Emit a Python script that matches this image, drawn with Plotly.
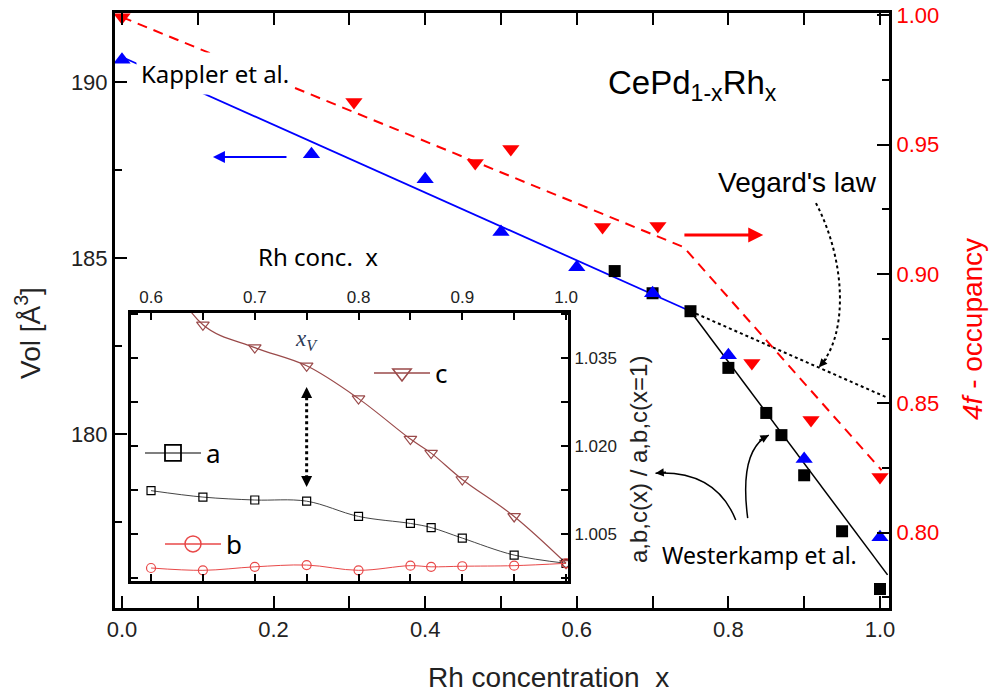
import plotly.graph_objects as go

# ---------------- data ----------------
kappler_x = [0.0, 0.25, 0.40, 0.50, 0.60, 0.70, 0.80, 0.90, 1.00]
kappler_vol = [190.63, 187.95, 187.24, 185.74, 184.74, 184.00, 182.24, 179.29, 177.07]

westerkamp_x = [0.65, 0.70, 0.75, 0.80, 0.85, 0.87, 0.90, 0.95, 1.00]
westerkamp_vol = [184.63, 184.00, 183.49, 181.88, 180.60, 179.97, 178.83, 177.24, 175.60]

occ_x = [0.0, 0.306, 0.466, 0.513, 0.634, 0.707, 0.831, 0.909, 1.0]
occ_4f = [0.9993, 0.9665, 0.9429, 0.9483, 0.9182, 0.9186, 0.8656, 0.8436, 0.8215]

# guide lines
vol_fit_x = [0.0, 0.75]
vol_fit_y = [190.71, 183.49]
vol_steep_x = [0.75, 1.01]
vol_steep_y = [183.49, 176.0]
vegard_x = [0.75, 1.008]
vegard_y = [183.49, 181.05]
occ_fit_x = [0.0, 0.741, 1.002]
occ_fit_y = [0.9993, 0.9104, 0.8242]

# inset: lattice parameter ratios
inset_x = [0.60, 0.65, 0.70, 0.75, 0.80, 0.85, 0.87, 0.90, 0.95, 1.00]
ratio_a = [1.0124, 1.0113, 1.0108, 1.0106, 1.0080, 1.0068, 1.0061, 1.0043, 1.0014, 1.0000]
ratio_b = [0.9992, 0.9988, 0.9994, 0.9997, 0.9988, 0.9996, 0.9994, 0.9995, 0.9996, 1.0000]
ratio_c = [1.0545, 1.0407, 1.0368, 1.0337, 1.0281, 1.0212, 1.0188, 1.0143, 1.0080, 1.0000]

x_ticks = [0.0, 0.2, 0.4, 0.6, 0.8, 1.0]

TICKFONT = "Liberation Sans"
TEXTFONT = "Noto Sans"
BLUE = "#0000ff"
RED = "#ff0000"
C_COL = "#9a4a4a"
B_COL = "#e84848"

fig = go.Figure()

# ---------------- main panel ----------------
fig.add_trace(go.Scatter(x=vol_fit_x, y=vol_fit_y, mode="lines",
                         line=dict(color=BLUE, width=1.8), showlegend=False))
fig.add_trace(go.Scatter(x=vol_steep_x, y=vol_steep_y, mode="lines",
                         line=dict(color="black", width=1.5), showlegend=False))
fig.add_trace(go.Scatter(x=vegard_x, y=vegard_y, mode="lines",
                         line=dict(color="black", width=2, dash="dot"), showlegend=False))
fig.add_trace(go.Scatter(x=westerkamp_x, y=westerkamp_vol, mode="markers",
                         marker=dict(symbol="square", size=12, color="black"),
                         showlegend=False, cliponaxis=False))
fig.add_trace(go.Scatter(x=kappler_x, y=kappler_vol, mode="markers",
                         marker=dict(symbol="triangle-up", size=15, color=BLUE),
                         showlegend=False, cliponaxis=False))
fig.add_trace(go.Scatter(x=occ_fit_x, y=occ_fit_y, yaxis="y2", mode="lines",
                         line=dict(color=RED, width=2, dash="10px,7px"), showlegend=False))
fig.add_trace(go.Scatter(x=occ_x, y=occ_4f, yaxis="y2", mode="markers",
                         marker=dict(symbol="triangle-down", size=15, color=RED),
                         showlegend=False, cliponaxis=False))

# ---------------- inset ----------------
fig.add_trace(go.Scatter(x=inset_x, y=ratio_c, xaxis="x2", yaxis="y3", mode="lines+markers",
                         line=dict(color=C_COL, width=1.2, shape="spline"),
                         marker=dict(symbol="triangle-down-open", size=11, color=C_COL,
                                     line=dict(width=1.2)),
                         showlegend=False, cliponaxis=True))
fig.add_trace(go.Scatter(x=inset_x, y=ratio_a, xaxis="x2", yaxis="y3", mode="lines+markers",
                         line=dict(color="#444444", width=1, shape="spline"),
                         marker=dict(symbol="square-open", size=8, color="black",
                                     line=dict(width=1.2)),
                         showlegend=False, cliponaxis=False))
fig.add_trace(go.Scatter(x=inset_x, y=ratio_b, xaxis="x2", yaxis="y3", mode="lines+markers",
                         line=dict(color=B_COL, width=1, shape="spline"),
                         marker=dict(symbol="circle-open", size=9, color=B_COL,
                                     line=dict(width=1.2)),
                         showlegend=False, cliponaxis=False))

# legend samples (no data, legend only)
fig.add_trace(go.Scatter(x=[None], y=[None], xaxis="x2", yaxis="y3", name="a",
                         mode="lines+markers", legend="legend",
                         line=dict(color="#555555", width=1.5),
                         marker=dict(symbol="square-open", size=16, color="black",
                                     line=dict(width=1.8))))
fig.add_trace(go.Scatter(x=[None], y=[None], xaxis="x2", yaxis="y3", name="b",
                         mode="lines+markers", legend="legend2",
                         line=dict(color=B_COL, width=1.5),
                         marker=dict(symbol="circle-open", size=16, color=B_COL,
                                     line=dict(width=1.5))))
fig.add_trace(go.Scatter(x=[None], y=[None], xaxis="x2", yaxis="y3", name="c",
                         mode="lines+markers", legend="legend3",
                         line=dict(color=C_COL, width=1.5),
                         marker=dict(symbol="triangle-down-open", size=16, color=C_COL,
                                     line=dict(width=1.5))))

W, H = 992, 695
L, R, T, B = 115, 103, 13, 87
PW, PH = W - L - R, H - T - B


def px(X):
    return (X - L) / PW


def py(Y):
    return (H - B - Y) / PH


legend_common = dict(bgcolor="rgba(0,0,0,0)", borderwidth=0, itemwidth=56,
                     font=dict(family=TEXTFONT, size=26, color="black"),
                     xanchor="left", yanchor="middle", orientation="v")

axis_common = dict(showgrid=False, zeroline=False, showline=True, linecolor="black",
                   ticks="inside", tickcolor="black", automargin=False)

fig.update_layout(
    template="none",
    width=W, height=H, autosize=False,
    margin=dict(l=L, r=R, t=T, b=B, pad=0, autoexpand=False),
    paper_bgcolor="white", plot_bgcolor="white",
    xaxis=dict(**axis_common, domain=[0, 1], anchor="y", range=[-0.0092, 1.0119],
               tickvals=x_ticks, tickformat=".1f", linewidth=3, ticklen=12, tickwidth=2,
               mirror="allticks",
               minor=dict(dtick=0.1, tick0=0, ticks="inside", ticklen=6, tickwidth=2,
                          tickcolor="black"),
               tickfont=dict(family=TICKFONT, size=22, color="#222222")),
    yaxis=dict(**axis_common, domain=[0, 1], anchor="x", range=[175.06, 191.96],
               tick0=175, dtick=5, linewidth=3, ticklen=12, tickwidth=2,
               minor=dict(dtick=2.5, tick0=175, ticks="inside", ticklen=7, tickwidth=2,
                          tickcolor="black"),
               tickfont=dict(family=TICKFONT, size=22, color="#222222")),
    yaxis2=dict(**axis_common, overlaying="y", side="right", anchor="x",
                range=[0.7709, 1.0009], tick0=0.8, dtick=0.05, tickformat=".2f",
                linewidth=3, ticklen=12, tickwidth=2,
                minor=dict(dtick=0.025, tick0=0.8, ticks="inside", ticklen=7, tickwidth=2,
                           tickcolor="black"),
                tickfont=dict(family=TICKFONT, size=22, color=RED)),
    xaxis2=dict(**axis_common, domain=[px(131), px(568)], anchor="y3", side="top",
                range=[0.5807, 1.0019], tick0=0.6, dtick=0.1, tickformat=".1f",
                linewidth=3, ticklen=7, tickwidth=2, mirror="allticks",
                minor=dict(dtick=0.05, tick0=0.6, ticks="inside", ticklen=7, tickwidth=2,
                           tickcolor="black"),
                tickfont=dict(family=TICKFONT, size=17, color="#222222")),
    yaxis3=dict(**axis_common, domain=[py(581), py(313)], anchor="x2", side="right",
                range=[0.99698, 1.04271], tick0=1.005, dtick=0.015, tickformat=".3f",
                linewidth=3, ticklen=7, tickwidth=2, mirror="allticks",
                minor=dict(dtick=0.0075, tick0=1.005, ticks="inside", ticklen=7,
                           tickwidth=2, tickcolor="black"),
                tickfont=dict(family=TICKFONT, size=17, color="#222222")),
    legend=dict(**legend_common, x=px(140), y=py(453)),
    legend2=dict(**legend_common, x=px(160), y=py(544)),
    legend3=dict(**legend_common, x=px(369), y=py(373)),
)


def txt(text, X, Y, size, color="black", family=TICKFONT, angle=0, xa="center", **kw):
    d = dict(text=text, x=px(X), y=py(Y), xref="paper", yref="paper",
             xanchor=xa, yanchor="middle", showarrow=False, textangle=angle,
             font=dict(family=family, size=size, color=color))
    d.update(kw)
    return d


ann = []
ann.append(dict(text="Kappler et al.", x=0.1223, y=190.23, xref="x", yref="y",
                xanchor="center", yanchor="middle",
                showarrow=False, bgcolor="white", borderpad=4,
                font=dict(family=TEXTFONT, size=24, color="black")))
ann.append(txt("CePd<sub>1-x</sub>Rh<sub>x</sub>", 606, 85, 33, xa="left"))
ann.append(txt("Vegard's law", 716, 182, 28, xa="left"))
ann.append(txt("Westerkamp et al.", 660, 555, 23, family=TEXTFONT, xa="left"))
ann.append(txt("Vol [Å<sup>3</sup>]", 28, 333, 28, color="#222222", angle=-90))
ann.append(txt("<i>4f</i> - occupancy", 972, 329, 28, color=RED, angle=-90))
ann.append(txt("Rh concentration\u00a0 x", 548, 677, 28, color="#222222"))
ann.append(txt("Rh conc.\u00a0 x", 318, 256, 24, family=TEXTFONT))
ann.append(txt("a,b,c(x) / a,b,c(x=1)", 638, 460, 24, color="#222222", angle=-90))
ann.append(dict(text="<i>x<sub>V</sub></i>", x=0.75, y=1.0381, xref="x2", yref="y3",
                xanchor="center", yanchor="middle",
                showarrow=False, font=dict(family="Liberation Serif", size=23, color="#2b3a55")))

# straight arrows
ann.append(dict(text="", x=0.120, y=187.87, ax=0.219, ay=187.87, xref="x", yref="y",
                axref="x", ayref="y", showarrow=True, arrowhead=2, arrowsize=1.2,
                arrowwidth=2, arrowcolor=BLUE, standoff=0))
ann.append(dict(text="", x=0.846, y=0.9151, ax=0.740, ay=0.9151, xref="x", yref="y2",
                axref="x", ayref="y2", showarrow=True, arrowhead=2, arrowsize=1,
                arrowwidth=3, arrowcolor=RED, standoff=0))

# arrowheads for curved / dotted arrows
heads = [
    (0.75, 1.0301, 0, 12, "x2", "y3", 2),
    (0.75, 1.0130, 0, -12, "x2", "y3", 2),
    (0.9194, 181.90, 9, -10, "x", "y", 1.5),
    (0.7039, 178.89, 12, -1, "x", "y", 1.5),
    (0.8533, 179.97, -11, 6, "x", "y", 1.5),
]
for hx, hy, hax, hay, xr, yr, w in heads:
    ann.append(dict(text="", x=hx, y=hy, ax=hax, ay=hay, xref=xr, yref=yr,
                    showarrow=True, arrowhead=2, arrowsize=1.1, arrowwidth=w,
                    arrowcolor="black", standoff=0))

fig.update_layout(annotations=ann)

shapes = [
    dict(type="line", xref="x2", yref="y3", x0=0.75, x1=0.75, y0=1.0145, y1=1.0288,
         line=dict(color="black", width=3, dash="dot")),
    dict(type="path", xref="x", yref="y",
         path="M 0.9155,186.56 C 0.955,184.94 0.959,182.81 0.9194,181.90",
         line=dict(color="black", width=2, dash="dot")),
    dict(type="path", xref="x", yref="y",
         path="M 0.8097,177.56 Q 0.7832,178.98 0.7039,178.89",
         line=dict(color="black", width=1.5)),
    dict(type="path", xref="x", yref="y",
         path="M 0.8255,177.61 Q 0.8137,179.55 0.8533,179.97",
         line=dict(color="black", width=1.5)),
]
fig.update_layout(shapes=shapes)

fig.write_html("out.html", config={"displayModeBar": False},
               post_script="document.body.style.margin='0';document.body.style.padding='0';")
